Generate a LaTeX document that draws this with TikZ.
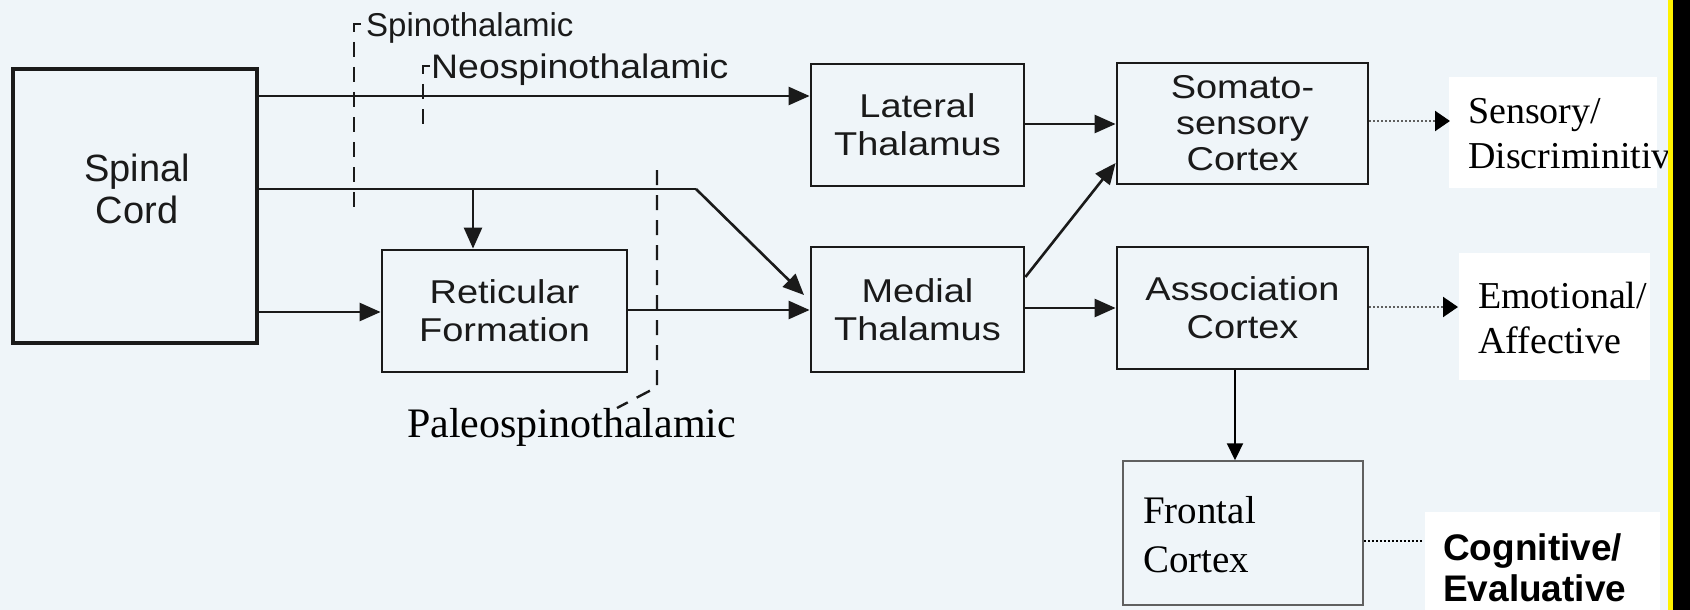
\documentclass[tikz,border=0pt]{standalone}
\usepackage{fontspec}
\setmainfont{Liberation Serif}
\newfontfamily\boxfont[FakeStretch=1.15]{Liberation Sans}
\newfontfamily\neofont[FakeStretch=1.1]{Liberation Sans}
\newfontfamily\plainsans{Liberation Sans}
\usetikzlibrary{arrows.meta}
\definecolor{bg}{HTML}{EFF5F9}
\definecolor{ink}{HTML}{1A1A1A}
\definecolor{frameg}{HTML}{606060}
\begin{document}
\begin{tikzpicture}[x=1pt,y=-1pt,
  box/.style={draw=ink, line width=2.8pt, inner sep=0pt, align=center, text=ink,
              font=\boxfont\fontsize{33}{38}\selectfont},
  bigbox/.style={draw=ink, line width=4.2pt, inner sep=0pt},
  thinbox/.style={draw=frameg, line width=1.5pt, inner sep=0pt},
  arr/.style={draw=ink, line width=2.6pt, -{Triangle[length=21pt,width=18pt]}},
  dsh/.style={draw=ink, line width=2.4pt, dash pattern=on 15pt off 10pt},
  dotln/.style={draw=ink!70, line width=2.2pt, dash pattern=on 2pt off 2pt},
  dotarr/.style={dotln, -{Triangle[length=15pt,width=20pt,color=black]}},
  sanslab/.style={inner sep=0pt, anchor=base west, text=ink, font=\plainsans\fontsize{35}{40}\selectfont},
  seriflab/.style={inner sep=0pt, anchor=base west, text=black, font=\fontsize{38}{44}\selectfont},
  boldlab/.style={inner sep=0pt, anchor=base west, text=black, font=\plainsans\bfseries\fontsize{37}{42}\selectfont}
]
\useasboundingbox (0,0) rectangle (1690,610);
\fill[bg] (0,0) rectangle (1690,610);

% white label backgrounds
\fill[white] (1449,77) rectangle (1657,188);
\fill[white] (1459,253) rectangle (1650,380);
\fill[white] (1425,512) rectangle (1660,610);

% boxes
\node[bigbox, minimum width=244pt, minimum height=274pt] (spinal) at (135,206) {};
\node[inner sep=0pt, align=center, text=ink, font=\plainsans\fontsize{38}{42}\selectfont] (spinaltxt) at (137,189) {Spinal\\Cord};
\node[box, minimum width=245pt, minimum height=122pt] (retic) at (504.5,311) {Reticular\\Formation};
\node[box, minimum width=213pt, minimum height=122pt] (lateral) at (917.5,125) {Lateral\\Thalamus};
\node[box, minimum width=213pt, minimum height=125pt] (medial) at (917.5,309.5) {Medial\\Thalamus};
\node[box, minimum width=251pt, minimum height=121pt, font=\boxfont\fontsize{33}{36}\selectfont] (somato) at (1242.5,123.5) {Somato-\\sensory\\Cortex};
\node[box, minimum width=251pt, minimum height=122pt] (assoc) at (1242.5,308) {Association\\Cortex};
\node[thinbox, minimum width=240pt, minimum height=144pt] (frontal) at (1243,533) {};

% connectors
\draw[arr] (spinal.east |- 0,96) -- (lateral.west |- 0,96);
\coordinate (bend) at (696,189);
\coordinate (mdin) at (804,295);
\draw[arr, -] (spinal.east |- 0,189) -- (bend);
\draw[arr] (bend) -- (mdin);
\coordinate (br) at (473,189);
\draw[arr] (br) -- (br |- retic.north);
\draw[arr] (spinal.east |- 0,312) -- (retic.west |- 0,312);
\draw[arr] (retic.east |- 0,310) -- (medial.west |- 0,310);
\draw[arr] (lateral.east |- 0,124) -- (somato.west |- 0,124);
\draw[arr] (medial.east |- 0,277) -- (somato.west |- 0,163);
\draw[arr] (medial.east |- 0,308) -- (assoc.west |- 0,308);
\draw[draw=black, line width=2.2pt, -{Triangle[length=17pt,width=16pt]}] (assoc.south -| 1235,0) -- (frontal.north -| 1235,0);

% dotted outputs
\coordinate (senstip) at (1450,121);
\coordinate (emotip) at (1458,307);
\coordinate (cogend) at (1423,541);
\draw[dotarr] (somato.east |- 0,121) -- (senstip);
\draw[dotarr] (assoc.east |- 0,307) -- (emotip);
\draw[dotln, draw=black] (frontal.east |- 0,541) -- (cogend);

% tract markers
\draw[dsh] (361,24) -- (354,24) -- (354,212);
\draw[dsh] (430,66) -- (423,66) -- (423,128);
\draw[dsh] (657,170) -- (657,387) -- (617,408);

% labels
\node[sanslab, font=\plainsans\fontsize{33}{38}\selectfont] (spinolab) at (366,37) {Spinothalamic};
\node[sanslab, font=\neofont\fontsize{34}{40}\selectfont] (neolab) at (431,78) {Neospinothalamic};
\node[seriflab, font=\fontsize{42}{48}\selectfont] (paleolab) at (407,437) {Paleospinothalamic};

\node[seriflab] (sens1) at (1468,124) {Sensory/};
\node[seriflab] (sens2) at (1468,168) {Discriminitive};
\node[seriflab] (emo1) at (1478,308) {Emotional/};
\node[seriflab] (emo2) at (1478,353) {Affective};
\node[seriflab, font=\fontsize{39}{46}\selectfont] (fr1) at (1143,523) {Frontal};
\node[seriflab, font=\fontsize{39}{46}\selectfont] (fr2) at (1143,572) {Cortex};
\node[boldlab] (cog1) at (1443,560) {Cognitive/};
\node[boldlab] (cog2) at (1443,601) {Evaluative};

% right edge strip
\fill[yellow] (1668,0) rectangle (1673,610);
\fill[black] (1673,0) rectangle (1690,610);
\end{tikzpicture}
\end{document}
